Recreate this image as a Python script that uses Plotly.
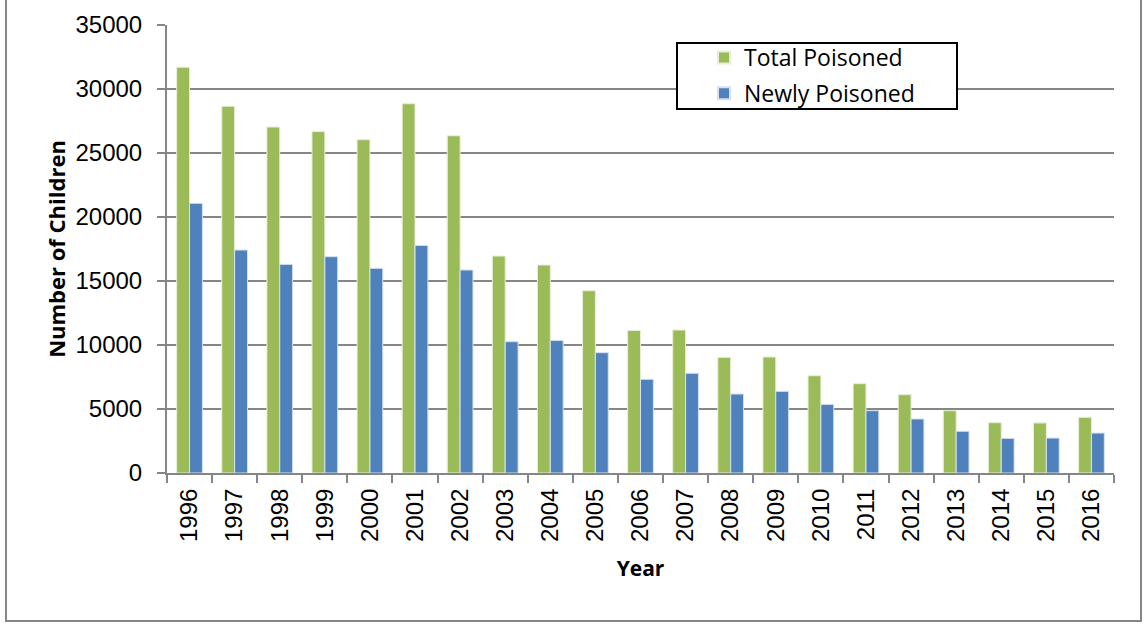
import plotly.graph_objects as go

years = [str(y) for y in range(1996, 2017)]
total_poisoned = [31700, 28650, 27030, 26670, 26040, 28850, 26350, 16950, 16250, 14240,
                  11140, 11170, 9040, 9060, 7600, 6980, 6120, 4870, 3930, 3910, 4350]
newly_poisoned = [21070, 17420, 16300, 16900, 15990, 17780, 15860, 10260, 10360, 9400,
                  7320, 7790, 6170, 6380, 5360, 4870, 4220, 3260, 2710, 2730, 3120]

y_ticks = [0, 5000, 10000, 15000, 20000, 25000, 30000, 35000]

fig = go.Figure()
fig.add_trace(go.Bar(x=years, y=total_poisoned, name="Total Poisoned", legendgroup="a",
                     marker=dict(color="#9BBB59", line=dict(color="#E6EFD6", width=1))))
fig.add_trace(go.Bar(x=years, y=newly_poisoned, name="Newly Poisoned", legendgroup="b",
                     marker=dict(color="#4F81BD", line=dict(color="#D6E0EE", width=1))))

L, R, T, B = 167, 30, 25, 151
W, H = 1144, 624
pw, ph = W - L - R, H - T - B

def px(xp):
    return (xp - L) / pw

def py(yp):
    return (H - B - yp) / ph

fig.update_layout(
    width=W, height=H,
    margin=dict(l=L, r=R, t=T, b=B),
    paper_bgcolor="white", plot_bgcolor="white",
    barmode="group", bargap=0.43, bargroupgap=0,
    font=dict(family="Liberation Sans, Arial", size=24, color="black"),
    xaxis=dict(
        type="category", tickangle=-90,
        showline=True, linecolor="#868686", linewidth=2,
        ticks="outside", ticklen=8, tickcolor="#868686", tickwidth=1.5,
        tickson="boundaries", showgrid=False,
        ticklabelstandoff=4,
        tickfont=dict(family="Liberation Sans, Arial", size=24),
        title=dict(text="<b>Year</b>", font=dict(family="Open Sans", size=21), standoff=20),
    ),
    yaxis=dict(
        range=[0, 35000], tickvals=y_ticks, ticktext=[str(v) for v in y_ticks],
        showline=True, linecolor="#868686", linewidth=2,
        ticks="outside", ticklen=8, tickcolor="#868686", tickwidth=1.5,
        ticklabelstandoff=10,
        showgrid=True, gridcolor="#868686", gridwidth=2,
        zeroline=False,
        tickfont=dict(family="Liberation Sans, Arial", size=24),
        title=dict(text="<b>Number of Children</b>", font=dict(family="Open Sans", size=22), standoff=4),
    ),
    legend=dict(
        x=px(704), y=py(36), xanchor="left", yanchor="top",
        bgcolor="rgba(0,0,0,0)", borderwidth=0,
        font=dict(family="Open Sans", size=23),
        tracegroupgap=3, itemsizing="constant",
    ),
    shapes=[
        dict(type="rect", xref="paper", yref="paper",
             x0=px(6), x1=px(1141), y0=py(621), y1=py(-3),
             line=dict(color="#868686", width=2), layer="below"),
        dict(type="rect", xref="paper", yref="paper",
             x0=px(677), x1=px(957), y0=py(109), y1=py(43),
             line=dict(color="black", width=2), fillcolor="white", layer="above"),
    ],
)

fig.write_html("out.html", config={"displayModeBar": False},
               post_script="document.body.style.margin='0';")
